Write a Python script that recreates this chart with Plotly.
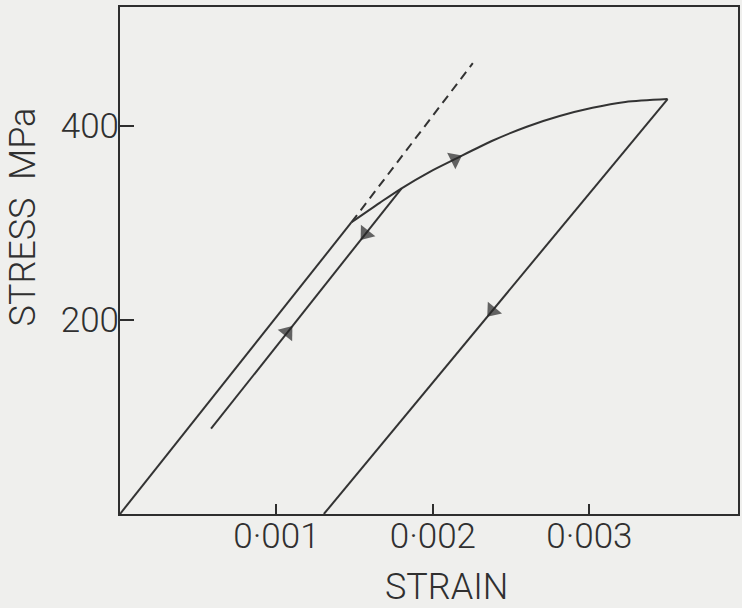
import numpy as np
import plotly.graph_objects as go

# ---- data ----
elastic_strain = [0.0, 0.00148]
elastic_stress = [0.0, 301.0]

plastic_strain = [0.00148, 0.00166, 0.00180, 0.00198, 0.00214, 0.00238, 0.00260, 0.00281, 0.00302, 0.00323, 0.00350]
plastic_stress = [301.0, 321.0, 336.0, 353.0, 366.0, 385.0, 399.5, 410.5, 419.0, 425.0, 428.0]

dashed_strain = [0.00148, 0.002255]
dashed_stress = [301.0, 465.0]

unload1_strain = [0.00180, 0.000582]
unload1_stress = [336.0, 88.0]

unload2_strain = [0.00350, 0.001303]
unload2_stress = [428.0, 0.0]

# arrows: strain position, path, direction (+1 increasing strain, -1 decreasing)
arrow_strain = [0.00214, 0.00157, 0.00107, 0.00238]
arrow_path = ["plastic", "unload1", "unload1", "unload2"]
arrow_dir = [1, -1, 1, -1]

x_tickvals = [0.001, 0.002, 0.003]
x_ticktext = ["0\u00b7001", "0\u00b7002", "0\u00b7003"]
y_tickvals = [200, 400]
y_ticktext = ["200", "400"]

x_range = [0, 0.00395]
y_range = [0, 523]

LINE = "#333333"
BG = "#efefed"
TXT = "#303030"
FONT = "Roboto, DejaVu Sans, sans-serif"

paths = {
    "plastic": (plastic_strain, plastic_stress),
    "unload1": (unload1_strain, unload1_stress),
    "unload2": (unload2_strain, unload2_stress),
}

fig = go.Figure()

def add_line(x, y, dash="solid", shape="linear"):
    fig.add_trace(go.Scatter(x=x, y=y, mode="lines",
                             line=dict(color=LINE, width=2, dash=dash, shape=shape, smoothing=0.8),
                             hoverinfo="skip", showlegend=False))

add_line(elastic_strain, elastic_stress)
add_line(plastic_strain, plastic_stress, shape="spline")
add_line(dashed_strain, dashed_stress, dash="9px,6px")
add_line(unload1_strain, unload1_stress)
add_line(unload2_strain, unload2_stress)

for xs, p, d in zip(arrow_strain, arrow_path, arrow_dir):
    px, py = paths[p]
    order = np.argsort(px)
    pxs = np.array(px)[order]
    pys = np.array(py)[order]
    x0 = xs - d * 2e-5
    ya = float(np.interp(xs, pxs, pys))
    y0 = float(np.interp(x0, pxs, pys))
    fig.add_trace(go.Scatter(x=[x0, xs], y=[y0, ya], mode="markers",
                             marker=dict(symbol="triangle-up", angleref="previous",
                                         size=[0, 16], color="#262626", line=dict(width=0)),
                             hoverinfo="skip", showlegend=False))

axis_common = dict(showline=True, linecolor="#2e2e2e", linewidth=2, mirror=True,
                   showgrid=False, zeroline=False, ticks="inside", tickcolor="#2e2e2e",
                   tickwidth=2, tickfont=dict(family=FONT, size=35, color=TXT, weight=300))

fig.update_layout(
    width=742, height=608,
    margin=dict(l=120, r=2, t=7, b=94),
    paper_bgcolor=BG, plot_bgcolor=BG,
    xaxis=dict(range=x_range, tickvals=x_tickvals, ticktext=x_ticktext, ticklen=10,
               ticklabelstandoff=-10, **axis_common),
    yaxis=dict(range=y_range, tickvals=y_tickvals, ticktext=y_ticktext, ticklen=14,
               ticklabelstandoff=-8, **axis_common),
    annotations=[
        dict(text="STRAIN", xref="paper", yref="paper", x=0.528, y=0, yshift=-73,
             xanchor="center", yanchor="middle", showarrow=False,
             font=dict(family=FONT, size=36, color=TXT, weight=300)),
        dict(text="STRESS  MPa", xref="paper", yref="paper", x=0, xshift=-97, y=0.585,
             xanchor="center", yanchor="middle", textangle=-90, showarrow=False,
             font=dict(family=FONT, size=36, color=TXT, weight=300)),
    ],
)

fig.write_html("out.html")
